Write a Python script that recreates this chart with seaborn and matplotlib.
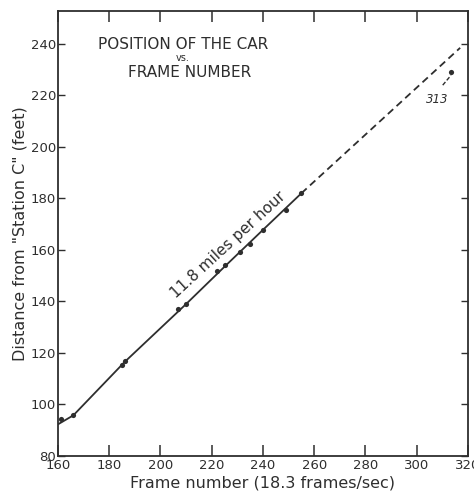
"""Position of the car vs. frame number (recreated with seaborn)."""
import matplotlib
matplotlib.use('Agg')
import matplotlib.pyplot as plt
import seaborn as sns
import pandas as pd

# measured points (frame number, distance in feet)
frames = [161, 166, 185, 186, 207, 210, 222, 225, 231, 235, 240, 249, 255]
distance = [94.5, 95.8, 115.2, 116.8, 137, 139, 152, 154, 159.4, 162.5, 167.8, 175.4, 182]

# frame 313 point
last_frame = [313.5]
last_distance = [229.3]

# solid line through the points, then dashed extension
solid_frames = [160, 166, 186, 210, 225, 240, 255]
solid_dist = [92.3, 95.8, 116.5, 139, 153.5, 167.8, 182]
dash_frames = [255, 317]
dash_dist = [182, 238.5]
leader_frames = [310.2, 313.4]
leader_dist = [224.0, 227.8]

x_ticks = [160, 180, 200, 220, 240, 260, 280, 300, 320]
y_ticks = [80, 100, 120, 140, 160, 180, 200, 220, 240]

INK = '#2e2e2e'


def main():
    sns.set_style('ticks')
    plt.rcParams['font.family'] = ['DejaVu Sans']

    fig = plt.figure(figsize=(4.74, 4.95), dpi=100)
    ax = fig.add_axes([0.1224, 0.0788, 0.8646, 0.899])

    pts = pd.DataFrame({'frame': frames, 'dist': distance})
    sns.lineplot(x=solid_frames, y=solid_dist, ax=ax, color=INK, lw=1.3,
                 estimator=None, sort=False)
    sns.lineplot(x=dash_frames, y=dash_dist, ax=ax, color=INK, lw=1.3,
                 estimator=None, sort=False, linestyle=(0, (4, 2.5)))
    sns.lineplot(x=leader_frames, y=leader_dist, ax=ax, color=INK, lw=1.0,
                 estimator=None, sort=False, linestyle=(0, (3, 1.5)))
    sns.scatterplot(data=pts, x='frame', y='dist', ax=ax, color=INK, s=14,
                    linewidth=0, zorder=3)
    sns.scatterplot(x=last_frame, y=last_distance, ax=ax, color=INK, s=14,
                    linewidth=0, zorder=3)

    ax.set_xlim(160, 320)
    ax.set_ylim(80, 252.8)
    ax.set_xticks(x_ticks)
    ax.set_yticks(y_ticks)
    ax.set_xticklabels([str(v) for v in x_ticks], fontsize=9.5, color=INK)
    ax.set_yticklabels([str(v) for v in y_ticks], fontsize=9.5, color=INK)
    ax.tick_params(axis='x', direction='in', length=8, width=1.1, color=INK,
                   top=True, pad=2)
    ax.tick_params(axis='y', direction='in', length=5, width=1.0, color=INK,
                   right=True, pad=1.5)
    for sp in ax.spines.values():
        sp.set_visible(True)
        sp.set_color(INK)
        sp.set_linewidth(1.3)

    ax.set_xlabel('Frame number (18.3 frames/sec)', fontsize=11.5, color=INK,
                  labelpad=3)
    ax.set_ylabel('Distance from "Station C" (feet)', fontsize=11.5, color=INK,
                  labelpad=2)

    ax.text(208.8, 239.6, 'POSITION OF THE CAR', ha='center', va='center',
            fontsize=11, color=INK)
    ax.text(208.5, 234.5, 'vs.', ha='center', va='center', fontsize=7, color=INK)
    ax.text(211.5, 229.0, 'FRAME NUMBER', ha='center', va='center',
            fontsize=11, color=INK)
    ax.text(226.5, 162.0, '11.8 miles per hour', ha='center', va='center',
            fontsize=11, rotation=42.5, color=INK, rotation_mode='anchor')
    ax.text(308.0, 218.6, '313', ha='center', va='center', fontsize=8.5,
            style='italic', color=INK)

    fig.savefig('out.png', dpi=100, facecolor='white')
    plt.close(fig)


if __name__ == '__main__':
    main()
